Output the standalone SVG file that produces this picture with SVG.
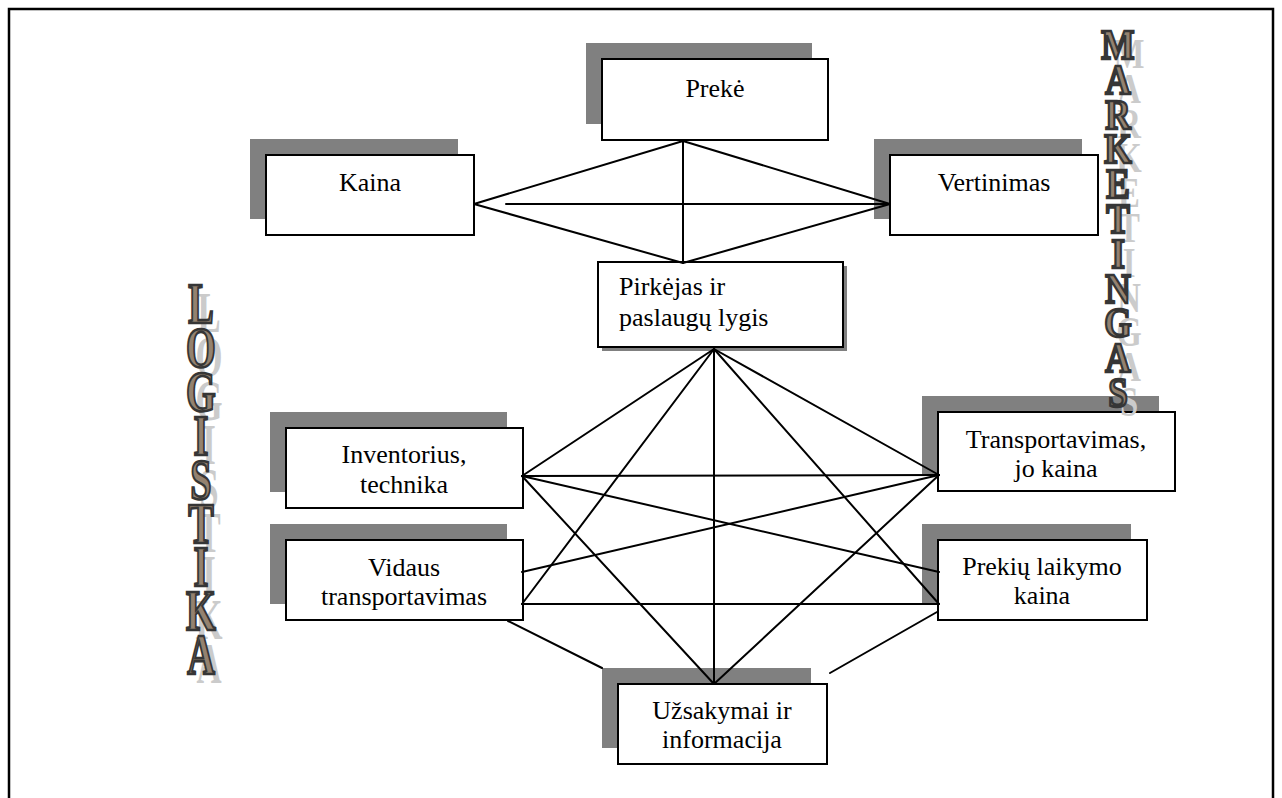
<svg xmlns="http://www.w3.org/2000/svg" width="1282" height="798" viewBox="0 0 1282 798">
  <style>
    .frame { fill: none; stroke: #000; stroke-width: 2.5; }
    .shadow { fill: #808080; }
    .box { fill: #fff; stroke: #000; stroke-width: 2; }
    .lbl { font-family: "Liberation Serif", "Times New Roman", serif; font-size: 26px; fill: #000; text-anchor: middle; }
    .lbl-left { text-anchor: start; }
    .links line { stroke: #000; stroke-width: 2; stroke-linecap: round; }
    .word { font-family: "Liberation Serif", "Times New Roman", serif; font-weight: bold; text-anchor: middle; }
    .word-main { fill: #94826f; stroke: #363636; stroke-width: 2.6; }
    .word-shade { fill: #cbcbcb; }
  </style>

  <rect class="frame" x="9" y="9" width="1264" height="820"/>

  <!-- nodes -->
  <g id="node-preke">
    <rect class="shadow" x="586" y="43" width="226" height="81"/>
    <rect class="box" x="602" y="59" width="226" height="81"/>
    <text class="lbl" x="715" y="97">Prekė</text>
  </g>
  <g id="node-kaina">
    <rect class="shadow" x="250" y="139" width="208" height="80"/>
    <rect class="box" x="266" y="155" width="208" height="80"/>
    <text class="lbl" x="370" y="191">Kaina</text>
  </g>
  <g id="node-vertinimas">
    <rect class="shadow" x="874" y="139" width="208" height="80"/>
    <rect class="box" x="890" y="155" width="208" height="80"/>
    <text class="lbl" x="994" y="191">Vertinimas</text>
  </g>
  <g id="node-pirkejas">
    <rect class="shadow" x="602" y="266" width="245" height="85"/>
    <rect class="box" x="598" y="262" width="245" height="85"/>
    <text class="lbl lbl-left" x="619" y="295">Pirkėjas ir</text>
    <text class="lbl lbl-left" x="619" y="326">paslaugų lygis</text>
  </g>
  <g id="node-inventorius">
    <rect class="shadow" x="270" y="412" width="237" height="80"/>
    <rect class="box" x="286" y="428" width="237" height="80"/>
    <text class="lbl" x="404" y="463">Inventorius,</text>
    <text class="lbl" x="404" y="493">technika</text>
  </g>
  <g id="node-vidaus">
    <rect class="shadow" x="270" y="524" width="237" height="80"/>
    <rect class="box" x="286" y="540" width="237" height="80"/>
    <text class="lbl" x="404" y="576">Vidaus</text>
    <text class="lbl" x="404" y="605">transportavimas</text>
  </g>
  <g id="node-transportavimas">
    <rect class="shadow" x="922" y="396" width="237" height="79"/>
    <rect class="box" x="938" y="412" width="237" height="79"/>
    <text class="lbl" x="1056" y="448">Transportavimas,</text>
    <text class="lbl" x="1056" y="477">jo kaina</text>
  </g>
  <g id="node-laikymas">
    <rect class="shadow" x="922" y="524" width="209" height="80"/>
    <rect class="box" x="938" y="540" width="209" height="80"/>
    <text class="lbl" x="1042" y="575">Prekių laikymo</text>
    <text class="lbl" x="1042" y="604">kaina</text>
  </g>
  <g id="node-uzsakymai">
    <rect class="shadow" x="602" y="668" width="209" height="80"/>
    <rect class="box" x="618" y="684" width="209" height="80"/>
    <text class="lbl" x="722" y="719">Užsakymai ir</text>
    <text class="lbl" x="722" y="748">informacija</text>
  </g>

  <!-- connectors -->
  <g id="links" class="links">
    <!-- upper diamond -->
    <line x1="683" y1="141" x2="474" y2="204"/>
    <line x1="683" y1="141" x2="890" y2="204"/>
    <line x1="683" y1="141" x2="683" y2="263"/>
    <line x1="474" y1="204" x2="683" y2="263"/>
    <line x1="890" y1="204" x2="683" y2="263"/>
    <line x1="506" y1="204" x2="890" y2="204"/>
    <!-- fan from Pirkėjas -->
    <line x1="714" y1="349" x2="522" y2="476"/>
    <line x1="714" y1="349" x2="939" y2="475"/>
    <line x1="714" y1="349" x2="522" y2="604"/>
    <line x1="714" y1="349" x2="939" y2="604"/>
    <line x1="714" y1="349" x2="714" y2="684"/>
    <!-- Inventorius -->
    <line x1="522" y1="476" x2="939" y2="475"/>
    <line x1="522" y1="476" x2="939" y2="572"/>
    <line x1="522" y1="476" x2="714" y2="684"/>
    <!-- Vidaus -->
    <line x1="522" y1="572" x2="939" y2="475"/>
    <line x1="522" y1="604" x2="939" y2="604"/>
    <line x1="508" y1="621" x2="602" y2="668"/>
    <!-- Transportavimas -->
    <line x1="939" y1="475" x2="714" y2="684"/>
    <!-- Prekių laikymo -->
    <line x1="937" y1="612" x2="830" y2="673"/>
  </g>

  <!-- side captions: pale offset letters behind engraved letters -->
  <g id="caption-marketingas">
    <g class="word word-shade" font-size="42" transform="translate(1129,9) scale(0.78,1)">
      <text x="0" y="59">M</text><text x="0" y="94">A</text><text x="0" y="129">R</text>
      <text x="0" y="163">K</text><text x="0" y="198">E</text><text x="0" y="233">T</text>
      <text x="0" y="268">I</text><text x="0" y="303">N</text><text x="0" y="337">G</text>
      <text x="0" y="372">A</text><text x="0" y="407">S</text>
    </g>
    <g class="word word-main" font-size="43" transform="translate(1118,0) scale(0.82,1)">
      <text x="0" y="59">M</text><text x="0" y="94">A</text><text x="0" y="129">R</text>
      <text x="0" y="163">K</text><text x="0" y="198">E</text><text x="0" y="233">T</text>
      <text x="0" y="268">I</text><text x="0" y="303">N</text><text x="0" y="337">G</text>
      <text x="0" y="372">A</text><text x="0" y="407">S</text>
    </g>
  </g>
  <g id="caption-logistika">
    <g class="word word-shade" font-size="56" transform="translate(209,9) scale(0.62,1)">
      <text x="0" y="323">L</text><text x="0" y="367">O</text><text x="0" y="411">G</text>
      <text x="0" y="455">I</text><text x="0" y="499">S</text><text x="0" y="543">T</text>
      <text x="0" y="586">I</text><text x="0" y="630">K</text><text x="0" y="674">A</text>
    </g>
    <g class="word word-main" font-size="58" transform="translate(201,0) scale(0.66,1)">
      <text x="0" y="323">L</text><text x="0" y="367">O</text><text x="0" y="411">G</text>
      <text x="0" y="455">I</text><text x="0" y="499">S</text><text x="0" y="543">T</text>
      <text x="0" y="586">I</text><text x="0" y="630">K</text><text x="0" y="674">A</text>
    </g>
  </g>
</svg>
